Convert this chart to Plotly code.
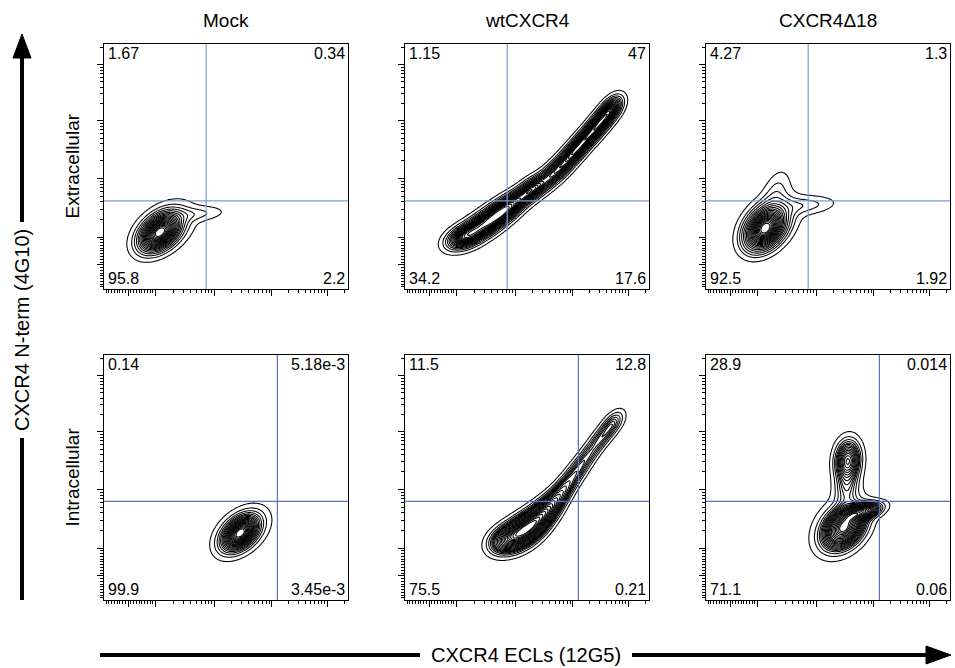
import numpy as np
import plotly.graph_objects as go

W, H = 955, 668
FONT = "Liberation Sans, Arial, sans-serif"

# ---------------- data ----------------
conditions = ["Mock", "wtCXCR4", "CXCR4Δ18"]
stainings = ["Extracellular", "Intracellular"]
x_title = "CXCR4 ECLs (12G5)"
y_title = "CXCR4 N-term (4G10)"

# quadrant frequencies (%): upper-left, upper-right, lower-left, lower-right
quad_ext = [["1.67", "0.34", "95.8", "2.2"],
            ["1.15", "47", "34.2", "17.6"],
            ["4.27", "1.3", "92.5", "1.92"]]
quad_int = [["0.14", "5.18e-3", "99.9", "3.45e-3"],
            ["11.5", "12.8", "75.5", "0.21"],
            ["28.9", "0.014", "71.1", "0.06"]]

# quadrant gate positions (display units): x, y
gate_ext = [1.78, 1.53]
gate_int = [3.02, 1.71]

# logicle-like axis: major tick positions (display units)
major_ticks = [0.42, 0.90, 1.92, 2.92, 3.89]
axis_max = 4.25

# cell populations, one row per component:
# centre x, centre y, spread along axis, spread across, axis angle (deg), weight
mock_ext = [[0.97, 0.98, 0.22, 0.14, 40, 1.00],
            [1.05, 1.06, 0.32, 0.20, 35, 0.30],
            [1.60, 1.30, 0.30, 0.08, 5, 0.05]]
wt_ext = [[0.97, 0.88, 0.20, 0.12, 24, 0.50],
          [1.20, 1.00, 0.22, 0.13, 32, 0.70],
          [1.50, 1.20, 0.22, 0.13, 36, 0.80],
          [1.79, 1.41, 0.22, 0.12, 37, 0.80],
          [2.20, 1.72, 0.24, 0.11, 37, 0.75],
          [2.64, 2.05, 0.24, 0.105, 45, 0.60],
          [2.95, 2.38, 0.22, 0.10, 48, 0.55],
          [3.22, 2.68, 0.22, 0.10, 48, 0.55],
          [3.45, 2.95, 0.20, 0.10, 50, 0.50],
          [3.62, 3.16, 0.16, 0.10, 52, 0.30]]
d18_ext = [[1.03, 1.05, 0.22, 0.15, 50, 1.00],
           [1.10, 1.15, 0.33, 0.22, 45, 0.30],
           [1.72, 1.45, 0.33, 0.10, 5, 0.06],
           [1.22, 1.68, 0.25, 0.13, 70, 0.05]]
mock_int = [[2.37, 1.16, 0.21, 0.13, 42, 1.00],
            [2.40, 1.20, 0.29, 0.19, 37, 0.25]]
wt_int = [[1.75, 1.04, 0.20, 0.14, 26, 0.60],
          [1.98, 1.15, 0.22, 0.15, 35, 1.00],
          [2.22, 1.32, 0.22, 0.14, 44, 1.00],
          [2.47, 1.56, 0.22, 0.12, 50, 0.75],
          [2.72, 1.86, 0.22, 0.10, 54, 0.40],
          [2.97, 2.20, 0.22, 0.095, 54, 0.25],
          [3.20, 2.52, 0.22, 0.09, 53, 0.20],
          [3.44, 2.84, 0.20, 0.09, 51, 0.20],
          [3.63, 3.08, 0.16, 0.09, 51, 0.15]]
d18_int = [[2.40, 1.25, 0.24, 0.17, 45, 1.00],
           [2.72, 1.53, 0.20, 0.08, 15, 0.28],
           [2.35, 1.30, 0.34, 0.24, 50, 0.30],
           [2.47, 2.42, 0.21, 0.13, 85, 0.42],
           [2.45, 1.95, 0.22, 0.13, 85, 0.15]]

panels = [mock_ext, wt_ext, d18_ext, mock_int, wt_int, d18_int]
quads = quad_ext + quad_int
gates = [gate_ext] * 3 + [gate_int] * 3
gate_colors = ["#7d98d8"] * 3 + ["#5a72bd"] * 3

# ---------------- layout geometry (pixels) ----------------
col_px = [(104, 348), (405, 649), (706, 950)]
row_px = [(44, 289), (355, 600)]


def px(x):
    return x / W


def py(y):
    return 1 - y / H


# minor ticks of the logicle scale
minor_ticks = []
step = (major_ticks[1] - major_ticks[0]) / 10
for k in range(1, 10):
    minor_ticks.append(major_ticks[0] + k * step)
    if major_ticks[0] - k * step > 0.02:
        minor_ticks.append(major_ticks[0] - k * step)
for i in range(1, len(major_ticks)):
    lo = major_ticks[i]
    span = (major_ticks[i] - major_ticks[i - 1]) if i == len(major_ticks) - 1 else (major_ticks[i + 1] - major_ticks[i])
    for m in range(2, 10):
        t = lo + np.log10(m) * span
        if t < axis_max - 0.02:
            minor_ticks.append(t)
minor_ticks = sorted(minor_ticks)

grid = np.linspace(0, axis_max, 241)
GX, GY = np.meshgrid(grid, grid)


def density(comps):
    d = np.zeros_like(GX)
    for cx, cy, a, b, ang, w in comps:
        t = np.deg2rad(ang)
        dx, dy = GX - cx, GY - cy
        u = dx * np.cos(t) + dy * np.sin(t)
        v = -dx * np.sin(t) + dy * np.cos(t)
        d += w / (2 * np.pi * a * b) * np.exp(-0.5 * (u ** 2 / a ** 2 + v ** 2 / b ** 2))
    return d


def prob_levels(d):
    # fraction of events lying at lower density (equal-probability contours)
    flat = d.ravel()
    order = np.argsort(flat)
    cum = np.cumsum(flat[order])
    cum /= cum[-1]
    q = np.empty_like(flat)
    q[order] = cum
    return q.reshape(d.shape)


fig = go.Figure()
shapes = []
annotations = []

for i, comps in enumerate(panels):
    r, c = divmod(i, 3)
    n = i + 1
    sfx = "" if n == 1 else str(n)
    q = prob_levels(density(comps))
    fig.add_trace(go.Contour(
        x=grid, y=grid, z=np.round(q, 4),
        xaxis="x" + sfx, yaxis="y" + sfx,
        contours=dict(start=0.03, end=0.97, size=0.045, coloring="lines"),
        colorscale=[[0, "black"], [1, "black"]],
        line=dict(width=1.05, smoothing=1.0),
        showscale=False, hoverinfo="skip"))

    x0, x1 = col_px[c]
    y0, y1 = row_px[r]
    axis_common = dict(range=[0, axis_max], showgrid=False, zeroline=False,
                       showline=True, linecolor="black", linewidth=1, mirror=True,
                       ticks="outside", ticklen=6, tickwidth=1, tickcolor="black",
                       tickvals=major_ticks, showticklabels=False, fixedrange=True,
                       minor=dict(tickvals=minor_ticks, ticks="outside", ticklen=3,
                                  tickwidth=1, tickcolor="black", showgrid=False))
    fig.update_layout(**{
        "xaxis" + sfx: dict(domain=[px(x0), px(x1)], anchor="y" + sfx, **axis_common),
        "yaxis" + sfx: dict(domain=[py(y1), py(y0)], anchor="x" + sfx, **axis_common),
    })

    gx, gy = gates[i]
    shapes.append(dict(type="line", xref="x" + sfx, yref="y" + sfx + " domain",
                       x0=gx, x1=gx, y0=0, y1=1,
                       line=dict(color=gate_colors[i], width=1.2), layer="above"))
    shapes.append(dict(type="line", xref="x" + sfx + " domain", yref="y" + sfx,
                       x0=0, x1=1, y0=gy, y1=gy,
                       line=dict(color=gate_colors[i], width=1.2), layer="above"))

    ul, ur, ll, lr = quads[i]
    for txt, xa, ya, xan, yan in [(ul, 0.012, 0.998, "left", "top"),
                                  (ur, 0.99, 0.998, "right", "top"),
                                  (ll, 0.012, 0.004, "left", "bottom"),
                                  (lr, 0.99, 0.004, "right", "bottom")]:
        annotations.append(dict(text=txt, xref="x" + sfx + " domain", yref="y" + sfx + " domain",
                                x=xa, y=ya, xanchor=xan, yanchor=yan, showarrow=False,
                                font=dict(size=16, color="black", family=FONT),
                                borderpad=0))

# column titles
for c, name in enumerate(conditions):
    x0, x1 = col_px[c]
    annotations.append(dict(text=name, xref="paper", yref="paper",
                            x=px((x0 + x1) / 2), y=py(20), xanchor="center", yanchor="middle",
                            showarrow=False, font=dict(size=19, color="black", family=FONT)))
# row titles
for r, name in enumerate(stainings):
    y0, y1 = row_px[r]
    annotations.append(dict(text=name, xref="paper", yref="paper",
                            x=px(72), y=py((y0 + y1) / 2), xanchor="center", yanchor="middle",
                            textangle=-90, showarrow=False,
                            font=dict(size=19, color="black", family=FONT)))

# axis titles with arrows
ytxt_c = 330
xtxt_c = 526
annotations.append(dict(text=y_title, xref="paper", yref="paper", x=px(22), y=py(ytxt_c),
                        xanchor="center", yanchor="middle", textangle=-90, showarrow=False,
                        font=dict(size=20, color="black", family=FONT)))
annotations.append(dict(text=x_title, xref="paper", yref="paper", x=px(xtxt_c), y=py(655),
                        xanchor="center", yanchor="middle", showarrow=False,
                        font=dict(size=20, color="black", family=FONT)))

half_y = 108
half_x = 106
lw = 4
# vertical arrow
shapes.append(dict(type="line", xref="paper", yref="paper", x0=px(22), x1=px(22),
                   y0=py(600), y1=py(ytxt_c + half_y), line=dict(color="black", width=lw)))
shapes.append(dict(type="line", xref="paper", yref="paper", x0=px(22), x1=px(22),
                   y0=py(ytxt_c - half_y), y1=py(54), line=dict(color="black", width=lw)))
shapes.append(dict(type="path", xref="paper", yref="paper",
                   path=f"M {px(22)} {py(34)} L {px(13)} {py(58)} L {px(31)} {py(58)} Z",
                   fillcolor="black", line=dict(color="black", width=1)))
# horizontal arrow
shapes.append(dict(type="line", xref="paper", yref="paper", x0=px(100), x1=px(xtxt_c - half_x),
                   y0=py(655), y1=py(655), line=dict(color="black", width=lw)))
shapes.append(dict(type="line", xref="paper", yref="paper", x0=px(xtxt_c + half_x), x1=px(930),
                   y0=py(655), y1=py(655), line=dict(color="black", width=lw)))
shapes.append(dict(type="path", xref="paper", yref="paper",
                   path=f"M {px(951)} {py(655)} L {px(926)} {py(646)} L {px(926)} {py(664)} Z",
                   fillcolor="black", line=dict(color="black", width=1)))

fig.update_layout(width=W, height=H, margin=dict(l=0, r=0, t=0, b=0),
                  paper_bgcolor="white", plot_bgcolor="white", showlegend=False,
                  shapes=shapes, annotations=annotations,
                  font=dict(family=FONT, color="black"))

fig.write_html("out.html")
